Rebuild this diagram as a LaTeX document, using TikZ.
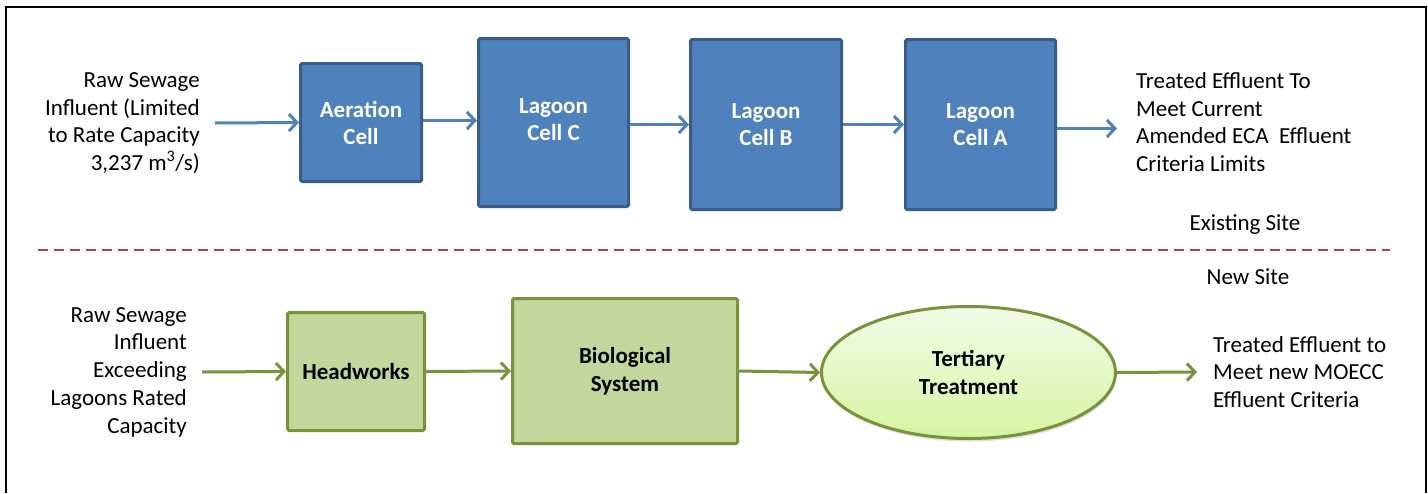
\documentclass[tikz,border=0pt]{standalone}
\usepackage{fontspec}
\setmainfont{Carlito}
\usetikzlibrary{arrows.meta,shapes.geometric,shadows}
\definecolor{bfill}{HTML}{4F81BD}
\definecolor{bline}{HTML}{385D8A}
\definecolor{gfill}{HTML}{C3D69B}
\definecolor{gline}{HTML}{77933C}
\definecolor{redash}{HTML}{A94543}
\definecolor{etop}{HTML}{F3FBE8}
\definecolor{ebot}{HTML}{D6F5A3}
\tikzset{
  bluebox/.style={draw=bline, fill=bfill, line width=3pt, rounded corners=1.5pt, text=white, font=\fontsize{23}{27}\selectfont\bfseries, align=center, inner sep=0pt},
  greenbox/.style={draw=gline, fill=gfill, line width=3pt, rounded corners=1.5pt, text=black, font=\fontsize{23}{28}\selectfont\bfseries, align=center, inner sep=0pt},
  plain/.style={font=\fontsize{23}{27.7}\selectfont, inner sep=0pt},
  barrow/.style={draw=bfill, line width=3pt, -{Straight Barb[length=8pt,width=17pt,line width=3pt]}},
  garrow/.style={draw=gline, line width=3pt, -{Straight Barb[length=8pt,width=17pt,line width=3pt]}},
}
\begin{document}
\begin{tikzpicture}[x=1pt,y=-1pt]
\useasboundingbox (0,0) rectangle (1428,493);
\fill[white] (0,0) rectangle (1428,493);
\draw[line width=1.5pt] (6,493) -- (6,7) -- (1426,7) -- (1426,493);

% top row
\node[plain, align=right, anchor=east] (rawA) at (200,123) {Raw Sewage\\Influent (Limited\\to Rate Capacity\\3,237 m\textsuperscript{3}/s)};
\node[bluebox, minimum width=121pt, minimum height=118pt] (aer) at (361,122.5) {Aeration\\Cell};
\node[bluebox, minimum width=150pt, minimum height=168pt] (lagC) at (553.5,122.5) {Lagoon\\Cell C\rule[-6pt]{0pt}{0pt}};
\node[bluebox, minimum width=151pt, minimum height=170pt] (lagB) at (766,124.5) {Lagoon\\Cell B};
\node[bluebox, minimum width=150pt, minimum height=170pt] (lagA) at (980.5,124.5) {Lagoon\\Cell A};
\node[plain, align=left, anchor=west] (outA) at (1136,122) {Treated Effluent To\\Meet Current\\Amended ECA~~Effluent\\Criteria Limits};
\node[plain] (exist) at (1245,225) {Existing Site};

\draw[barrow] ([xshift=15pt]rawA.east) -- (aer.west);
\draw[barrow] ([yshift=2pt]aer.east) -- ([yshift=2pt]aer.east -| lagC.west);
\draw[barrow] (lagC.east |- lagB.center) -- (lagB.west);
\draw[barrow] (lagB.east) -- (lagA.west);
\draw[barrow] ([yshift=-4pt]lagA.east) -- ([xshift=-19pt,yshift=-4pt]lagA.east -| outA.west);

% separator
\coordinate (dl) at (38,250);
\coordinate (dr) at (1390,250);
\draw[redash, line width=2pt, dash pattern=on 9.5pt off 6.5pt] (dl) -- (dr);
\node[plain] (newsite) at (1248,277) {New Site};

% bottom row
\node[plain, align=right, anchor=east] (rawB) at (187,372) {Raw Sewage\\Influent\\Exceeding\\Lagoons Rated\\Capacity};
\node[greenbox, minimum width=137pt, minimum height=118pt] (head) at (356,371.5) {Headworks};
\node[greenbox, minimum width=225pt, minimum height=145pt] (bio) at (625,371) {Biological\\System};
\node[ellipse, draw=gline, line width=3pt, top color=etop, bottom color=ebot, minimum width=294pt, minimum height=132pt, font=\fontsize{23}{28}\selectfont\bfseries, align=center, inner sep=0pt, drop shadow={shadow xshift=1pt, shadow yshift=-3pt, opacity=0.25}] (tert) at (968.5,372.5) {Tertiary\\Treatment};
\node[plain, align=left, anchor=west] (outB) at (1213,372) {Treated Effluent to\\Meet new MOECC\\Effluent Criteria};

\draw[garrow] ([xshift=15pt]rawB.east) -- (head.west);
\draw[garrow] (head.east) -- (bio.west);
\draw[garrow] (bio.east) -- (tert.west);
\draw[garrow] (tert.east) -- ([xshift=-16pt]outB.west);
\end{tikzpicture}
\end{document}
